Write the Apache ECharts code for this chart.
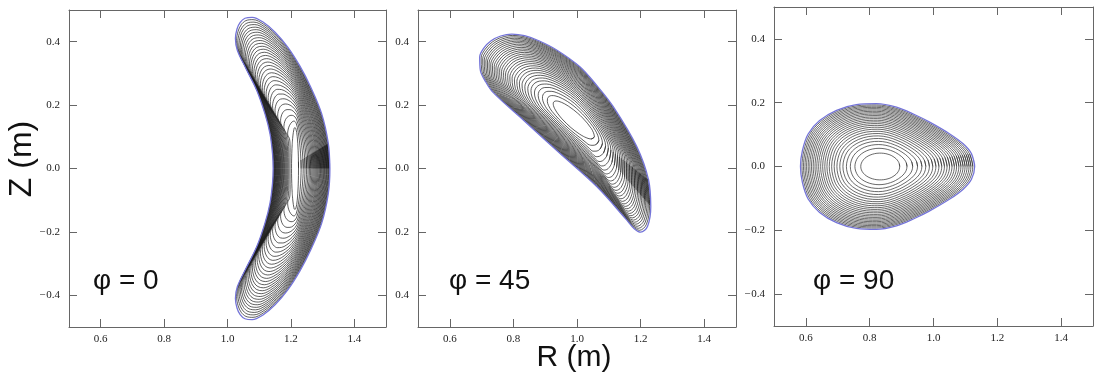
<!DOCTYPE html>
<html><head><meta charset="utf-8">
<script src="https://cdn.jsdelivr.net/npm/echarts@6/dist/echarts.min.js"></script>
<style>html,body{margin:0;padding:0;background:#fff}#c{width:1099px;height:383px}</style>
</head><body><div id="c"></div>
<script>
// ---- data ----
const xTicks = [0.6, 0.8, 1.0, 1.2, 1.4];
const yTicks = [-0.4, -0.2, 0.0, 0.2, 0.4];
const panelTitles = ['φ = 0', 'φ = 45', 'φ = 90'];

// last closed flux surface (R, Z) in metres
const boundary0 = [
  [1.323,0.000],[1.318,0.079],[1.297,0.173],[1.262,0.258],[1.229,0.322],[1.190,0.383],[1.150,0.430],
  [1.112,0.462],[1.078,0.477],[1.055,0.474],[1.040,0.461],[1.030,0.440],[1.025,0.410],
  [1.031,0.373],[1.057,0.318],[1.092,0.247],[1.118,0.173],[1.134,0.110],[1.142,0.047],[1.144,0.000],
  [1.142,-0.047],[1.134,-0.110],[1.118,-0.173],[1.092,-0.247],[1.057,-0.318],[1.031,-0.373],[1.025,-0.410],
  [1.030,-0.440],[1.040,-0.461],[1.055,-0.474],[1.078,-0.477],[1.112,-0.462],[1.150,-0.430],
  [1.190,-0.383],[1.229,-0.322],[1.262,-0.258],[1.297,-0.173],[1.318,-0.079]
];
const boundary45 = [
  [1.232,-0.120],[1.225,-0.036],[1.188,0.069],[1.114,0.195],[1.062,0.262],[1.009,0.321],[0.936,0.374],
  [0.880,0.403],[0.835,0.419],[0.795,0.424],[0.760,0.418],[0.730,0.403],[0.707,0.380],[0.694,0.352],
  [0.696,0.310],[0.712,0.275],[0.736,0.240],[0.831,0.153],[0.946,0.048],[1.062,-0.057],[1.156,-0.162],
  [1.180,-0.190],[1.200,-0.201],[1.222,-0.182]
];
const boundary90 = [
  [1.129,0.000],[1.119,0.040],[1.093,0.071],[1.051,0.102],[0.988,0.139],[0.940,0.163],[0.884,0.186],
  [0.821,0.197],[0.758,0.194],[0.696,0.176],[0.643,0.144],[0.607,0.102],[0.589,0.050],[0.583,0.000],
  [0.589,-0.050],[0.607,-0.102],[0.643,-0.144],[0.696,-0.176],[0.758,-0.194],[0.821,-0.197],[0.884,-0.186],
  [0.940,-0.163],[0.988,-0.139],[1.051,-0.102],[1.093,-0.071],[1.119,-0.040]
];
// innermost surface: centre R, centre Z, semi-axis 1, semi-axis 2, tilt of axis 1 (deg)
const core0  = [1.213, 0.000, 0.130, 0.011, 90];
const core45 = [0.990, 0.153, 0.085, 0.024, -42.4];
const core90 = [0.833, 0.000, 0.061, 0.042, 0];
// relative position of each drawn surface between innermost (0) and boundary (1)
const levels0  = [0,0.083,0.149,0.207,0.258,0.305,0.348,0.388,0.426,0.462,0.496,0.529,0.561,0.591,0.620,0.649,0.676,0.703,0.729,0.754,0.779,0.803,0.827,0.850,0.873,0.895,0.916,0.938,0.959,0.980,1];
const levels45 = [0,0.083,0.149,0.207,0.258,0.305,0.348,0.388,0.426,0.462,0.496,0.529,0.561,0.591,0.620,0.649,0.676,0.703,0.729,0.754,0.779,0.803,0.827,0.850,0.873,0.895,0.916,0.938,0.959,0.980,1];
const levels90 = [0,0.097,0.173,0.238,0.296,0.348,0.396,0.441,0.483,0.523,0.561,0.597,0.632,0.665,0.698,0.729,0.759,0.789,0.817,0.845,0.872,0.899,0.925,0.950,0.975,1];

// ---- build nested surfaces ----
function buildSurfaces(boundary, core, levels) {
  const [cx, cz, a, b, tiltDeg] = core;
  const t = tiltDeg * Math.PI / 180;
  const e1 = [Math.cos(t), Math.sin(t)], e2 = [-Math.sin(t), Math.cos(t)];
  const pq = boundary.map(([r, z]) => {
    const dx = r - cx, dz = z - cz;
    return [dx * e1[0] + dz * e1[1], dx * e2[0] + dz * e2[1]];
  });
  const ps = pq.map(v => v[0]), qs = pq.map(v => v[1]);
  const pMax = Math.max(...ps), pMin = Math.min(...ps), qMax = Math.max(...qs), qMin = Math.min(...qs);
  const corePts = pq.map(([p, q]) => {
    const u = p >= 0 ? p / pMax : -p / pMin;
    const v = q >= 0 ? q / qMax : -q / qMin;
    const th = Math.atan2(v, u);
    const cp = a * Math.cos(th), cq = b * Math.sin(th);
    return [cx + cp * e1[0] + cq * e2[0], cz + cp * e1[1] + cq * e2[1]];
  });
  return levels.map(s => {
    const pts = boundary.map((B, i) => [corePts[i][0] + s * (B[0] - corePts[i][0]), corePts[i][1] + s * (B[1] - corePts[i][1])]);
    return pts.concat([pts[0], pts[1]]);
  });
}

const panels = [
  {b: boundary0, c: core0, l: levels0, grid: {left: 69, top: 10, width: 317, height: 317}, col: '#1a1a1a'},
  {b: boundary45, c: core45, l: levels45, grid: {left: 418, top: 10, width: 318, height: 317}, col: '#1a1a1a'},
  {b: boundary90, c: core90, l: levels90, grid: {left: 774, top: 7, width: 319, height: 319}, col: '#2a2a2a'}
];

const lineCol = '#666';
const labelFont = {fontFamily: 'Liberation Serif', fontSize: 11, color: '#222'};
const fmtY = (i) => (v) => {
  const s = Math.abs(v).toFixed(1);
  if (v < -1e-9) return i === 1 ? s : '\u2212\u200A' + s;
  return s;
};

const grid = [], xAxis = [], yAxis = [], series = [];
panels.forEach((P, i) => {
  grid.push(P.grid);
  const common = {type: 'value', min: 0.5, max: 1.5, gridIndex: i, splitLine: {show: false},
    axisLine: {show: true, onZero: false, lineStyle: {color: lineCol, width: 1}}};
  xAxis.push(Object.assign({}, common, {position: 'bottom',
    axisTick: {show: true, inside: true, length: 8, customValues: xTicks, lineStyle: {color: lineCol}},
    axisLabel: Object.assign({show: true, customValues: xTicks, margin: 7, formatter: v => v.toFixed(1)}, labelFont)}));
  xAxis.push(Object.assign({}, common, {position: 'top',
    axisTick: {show: true, inside: true, length: 8, customValues: xTicks, lineStyle: {color: lineCol}},
    axisLabel: {show: false}}));
  const ycommon = {type: 'value', min: -0.5, max: 0.5, gridIndex: i, splitLine: {show: false},
    axisLine: {show: true, onZero: false, lineStyle: {color: lineCol, width: 1}}};
  yAxis.push(Object.assign({}, ycommon, {position: 'left',
    axisTick: {show: true, inside: true, length: 8, customValues: yTicks, lineStyle: {color: lineCol}},
    axisLabel: Object.assign({show: true, customValues: yTicks, margin: 9, formatter: fmtY(i)}, labelFont)}));
  yAxis.push(Object.assign({}, ycommon, {position: 'right',
    axisTick: {show: true, inside: true, length: 8, customValues: yTicks, lineStyle: {color: lineCol}},
    axisLabel: {show: false}}));
  const surfaces = buildSurfaces(P.b, P.c, P.l);
  surfaces.forEach((pts, k) => {
    const last = k === surfaces.length - 1;
    series.push({type: 'line', xAxisIndex: 2 * i, yAxisIndex: 2 * i, data: pts, smooth: 0.35,
      symbol: 'none', silent: true, clip: false, z: last ? 3 : 2,
      lineStyle: last ? {color: '#7474d8', width: 1.3} : {color: P.col, width: 0.7}});
  });
});

const chart = echarts.init(document.getElementById('c'), null, {renderer: 'canvas'});
chart.setOption({
  animation: false,
  backgroundColor: '#fff',
  grid, xAxis, yAxis, series,
  graphic: [
    {type: 'text', x: 22, y: 159, rotation: Math.PI / 2, style: {text: 'Z (m)', font: '32px "Liberation Sans"', fill: '#111', align: 'center', verticalAlign: 'middle'}},
    {type: 'text', x: 574, y: 358, style: {text: 'R (m)', font: '30px "Liberation Sans"', fill: '#111', align: 'center', verticalAlign: 'middle'}},
    {type: 'text', x: 93, y: 281, style: {text: panelTitles[0], font: '28px "Liberation Sans"', fill: '#111', align: 'left', verticalAlign: 'middle'}},
    {type: 'text', x: 449, y: 281, style: {text: panelTitles[1], font: '28px "Liberation Sans"', fill: '#111', align: 'left', verticalAlign: 'middle'}},
    {type: 'text', x: 813, y: 281, style: {text: panelTitles[2], font: '28px "Liberation Sans"', fill: '#111', align: 'left', verticalAlign: 'middle'}}
  ]
});
</script></body></html>
